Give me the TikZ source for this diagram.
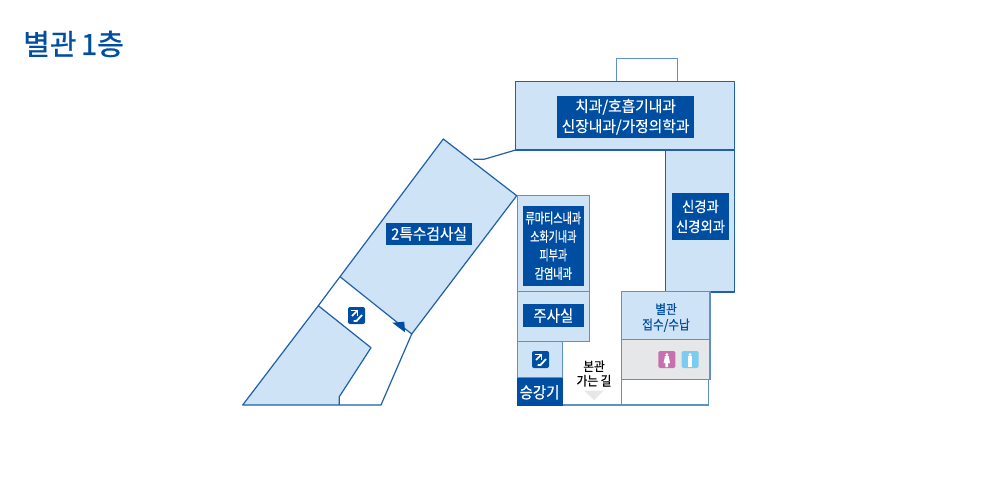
\documentclass[tikz,border=0pt]{standalone}
\usepackage{fontspec}
\setmainfont{Noto Sans CJK KR}
\newfontfamily\krc{Noto Sans CJK KR}[FakeBold=0.5,FakeStretch=0.9]
\newfontfamily\krs{Noto Sans CJK KR}[FakeBold=0.5,FakeStretch=0.95]
\newfontfamily\krn{Noto Sans CJK KR}[FakeBold=0.5,FakeStretch=0.72]
\newfontfamily\krt{Noto Sans CJK KR}[FakeBold=0.9]
\definecolor{navy}{HTML}{004EA2}
\definecolor{room}{HTML}{CEE3F6}
\definecolor{edge}{HTML}{1F5FAB}
\definecolor{edgesoft}{HTML}{5E90CC}
\definecolor{wc}{HTML}{E6E7E8}
\definecolor{female}{HTML}{C671AE}
\definecolor{male}{HTML}{7CCBF0}
\tikzset{
  x=1pt,y=-1pt,
  roomshape/.style={fill=room,draw=edge,line width=1.2pt,line join=round},
  softshape/.style={fill=room,draw=edgesoft,line width=1.3pt},
  outline/.style={draw=edgesoft,line width=1.3pt},
  wall/.style={draw=edge,line width=1.2pt,line join=round},
  tag/.style={fill=navy,text=white,inner sep=0pt,align=center,font=\krs\fontsize{15.5}{20}\selectfont},
  tagsmall/.style={tag,font=\krn\fontsize{14}{18.5}\selectfont},
  plain/.style={inner sep=0pt,align=center},
  stairbg/.style={fill=navy,rounded corners=2pt},
}
\newcommand{\stairicon}[2]{%
  \begin{scope}[shift={(#1,#2)}]
    \fill[stairbg] (0,0) rectangle (17,17);
    \draw[white,line width=1.5pt] (3,3.5) -- (9.5,3.5) -- (9.5,9);
    \draw[white,line width=1.5pt] (9.5,3.5) -- (4,9);
    \draw[white,line width=1.8pt] (5.5,14) -- (8.5,14) -- (14,8);
  \end{scope}}
\newcommand{\personicon}[3]{%
  \begin{scope}[shift={(#1,#2)}]
    \fill[#3,rounded corners=1.5pt] (0,0) rectangle (17,17);
    \fill[white] (8.5,3.6) circle (1.6);
  \end{scope}}
\begin{document}
\begin{tikzpicture}
\useasboundingbox (0,0) rectangle (1001,501);
\fill[white] (0,0) rectangle (1001,501);
\node[anchor=west,inner sep=0pt,text=navy,font=\krt\fontsize{29}{30}\selectfont] (title) at (23,44) {별관\hspace{-2pt} 1층};

% outlines behind
\draw[outline,fill=white] (616.7,81.7) -- (616.7,58.3) -- (677.3,58.3) -- (677.3,81.7);
\draw[outline] (562.7,405) -- (708.3,405) -- (708.3,379);
\draw[outline] (621.7,379) -- (621.7,405);

% rooms
\draw[roomshape] (515.7,81.7) rectangle (734.3,150);
\draw[roomshape] (665.7,150) rectangle (734.3,292);
\draw[wall] (473.3,159.3) -- (484,159.3) -- (515.7,150);
\draw[roomshape] (443.3,139) -- (516.7,195.7) -- (411.7,334) -- (340,276.7) -- cycle;
\draw[wall] (340,276.7) -- (318.3,305.7);
\draw[wall] (411.7,334) -- (381,405) -- (339.3,405);
\draw[roomshape] (318.3,305.7) -- (371,347.7) -- (339.3,396.7) -- (339.3,405) -- (242.7,405) -- cycle;
\fill[navy] (392.3,322.7) -- (404.3,321.7) -- (405,332.3) -- cycle;

\draw[softshape] (517.3,195.7) rectangle (589.3,291.7);
\draw[softshape] (517.3,291.7) rectangle (589.3,341.7);
\draw[softshape] (517.3,341.7) rectangle (562.7,377.7);
\fill[navy] (516.7,377.7) rectangle (563.3,405.6);
\draw[softshape] (621.7,291.7) rectangle (710,339.3);
\draw[outline,fill=wc] (621.7,339.3) rectangle (710,379.3);

% labels
\node[tag,minimum width=136.7pt,minimum height=41.7pt] (l1) at (625.6,116.8) {치과/호흡기내과\\신장내과/가정의학과};
\node[tag,minimum width=56.4pt,minimum height=46.4pt,font=\krc\fontsize{14.8}{20}\selectfont] (l2) at (700.5,216.5) {신경과\\신경외과};
\node[tag,minimum width=86.3pt,minimum height=22pt] (l3) at (429.1,233.7) {2특수검사실};
\node[tagsmall,minimum width=61.3pt,minimum height=79.7pt] (l4) at (553.3,245.8) {류마티스내과\\소화기내과\\피부과\\감염내과};
\node[tag,minimum width=61.3pt,minimum height=22.7pt,font=\krc\fontsize{16}{18}\selectfont] (l5) at (553.3,315.6) {주사실};
\node[plain,text=white,font=\krc\fontsize{16}{18}\selectfont] (l6) at (539.5,392.3) {승강기};
\node[plain,text=navy,font=\krc\fontsize{13}{15.5}\selectfont] (l7) at (666,317.5) {별관\\접수/수납};
\node[plain,text=black,font=\krc\fontsize{13}{14.5}\selectfont] (l8) at (594,373.5) {본관\\가는 길};
\fill[wc] (584.3,390.7) -- (603.3,390.7) -- (594,400) -- cycle;

% icons
\stairicon{348}{307}
\stairicon{532}{351}
\personicon{658.3}{351}{female}
\fill[white] (665,356) -- (668.6,356) -- (670,363) -- (668.2,363) -- (668.2,367) -- (665.4,367) -- (665.4,363) -- (663.6,363) -- cycle;
\personicon{681.5}{351}{male}
\fill[white] (688.2,356) rectangle (691.8,367);
\end{tikzpicture}
\end{document}
